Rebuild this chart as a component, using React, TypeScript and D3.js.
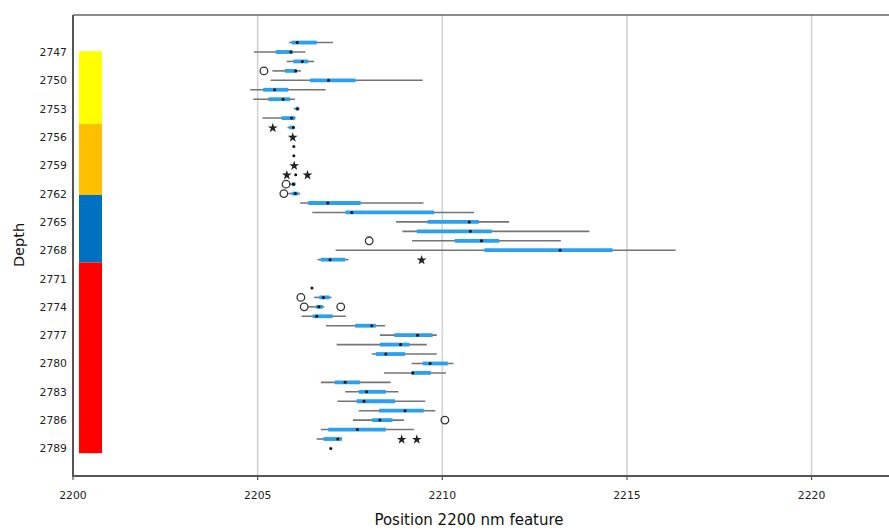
import * as d3 from 'd3';

// depth rows (every metre), tick labels shown on the axis
const depths = [
  2746, 2747, 2748, 2749, 2750, 2751, 2752, 2753, 2754, 2755, 2756, 2757, 2758, 2759, 2760,
  2761, 2762, 2763, 2764, 2765, 2766, 2767, 2768, 2769, 2770, 2771, 2772, 2773, 2774, 2775,
  2776, 2777, 2778, 2779, 2780, 2781, 2782, 2783, 2784, 2785, 2786, 2787, 2788, 2789,
];
const depthTicks = [2747, 2750, 2753, 2756, 2759, 2762, 2765, 2768, 2771, 2774, 2777, 2780, 2783, 2786, 2789];
const xTicks = [2200, 2205, 2210, 2215, 2220];

// box plot stats per depth (rows 2770 and 2771 have no data)
const boxDepths = [
  2746, 2747, 2748, 2749, 2750, 2751, 2752, 2753, 2754, 2755, 2756, 2757, 2758, 2759, 2760,
  2761, 2762, 2763, 2764, 2765, 2766, 2767, 2768, 2769, 2772, 2773, 2774, 2775, 2776, 2777,
  2778, 2779, 2780, 2781, 2782, 2783, 2784, 2785, 2786, 2787, 2788, 2789,
];
const whiskerLow = [
  2205.85, 2204.9, 2205.79, 2205.4, 2205.35, 2204.8, 2204.88, 2205.98, 2205.13, 2205.81, 2205.95, 2205.98, 2205.98, 2205.99, 2206.03,
  2205.85, 2205.83, 2206.15, 2206.48, 2208.75, 2208.92, 2209.18, 2207.11, 2206.62, 2206.47, 2206.53, 2206.37, 2206.19, 2206.85, 2208.31,
  2207.14, 2208.09, 2209.17, 2208.42, 2206.71, 2207.37, 2207.16, 2207.74, 2207.58, 2206.71, 2206.6, 2206.98,
];
const q1 = [
  2205.92, 2205.49, 2205.97, 2205.74, 2206.42, 2205.15, 2205.29, 2206.03, 2205.65, 2205.86, 2205.95, 2205.98, 2205.98, 2205.99, 2206.03,
  2205.93, 2205.92, 2206.37, 2207.38, 2209.6, 2209.31, 2210.34, 2211.14, 2206.71, 2206.47, 2206.67, 2206.58, 2206.49, 2207.64, 2208.7,
  2208.31, 2208.2, 2209.47, 2209.17, 2207.09, 2207.74, 2207.68, 2208.29, 2208.1, 2206.91, 2206.78, 2206.98,
];
const median = [
  2206.07, 2205.9, 2206.21, 2206.03, 2206.92, 2205.46, 2205.69, 2206.08, 2205.92, 2205.97, 2205.95, 2205.98, 2205.98, 2205.99, 2206.03,
  2205.97, 2206.02, 2206.9, 2207.55, 2210.73, 2210.76, 2211.06, 2213.19, 2206.96, 2206.47, 2206.78, 2206.66, 2206.6, 2208.09, 2209.33,
  2208.87, 2208.47, 2209.67, 2209.2, 2207.37, 2207.95, 2207.88, 2208.99, 2208.31, 2207.7, 2207.17, 2206.98,
];
const q3 = [
  2206.6, 2205.95, 2206.37, 2206.06, 2207.65, 2205.83, 2205.88, 2206.11, 2206.01, 2205.98, 2205.95, 2205.98, 2205.98, 2205.99, 2206.03,
  2206.02, 2206.1, 2207.79, 2209.78, 2210.99, 2211.34, 2211.54, 2214.61, 2207.37, 2206.47, 2206.94, 2206.76, 2207.03, 2208.2, 2209.74,
  2209.11, 2208.99, 2210.15, 2209.69, 2207.77, 2208.47, 2208.72, 2209.5, 2208.65, 2208.47, 2207.28, 2206.98,
];
const whiskerHigh = [
  2207.04, 2206.29, 2206.53, 2206.17, 2209.47, 2206.84, 2206.01, 2206.13, 2206.03, 2206.01, 2205.95, 2205.98, 2205.98, 2205.99, 2206.03,
  2206.03, 2206.15, 2209.49, 2210.86, 2211.81, 2213.98, 2213.21, 2216.32, 2207.46, 2206.47, 2207.0, 2206.8, 2207.39, 2208.45, 2209.85,
  2209.58, 2209.85, 2210.3, 2210.1, 2208.6, 2208.81, 2209.54, 2209.81, 2208.96, 2209.23, 2207.29, 2206.98,
];

// outliers (circles) and extremes (stars)
const outlierDepths = [2749, 2761, 2762, 2767, 2773, 2774, 2774, 2786];
const outlierValues = [2205.17, 2205.77, 2205.71, 2208.02, 2206.17, 2206.26, 2207.25, 2210.07];
const extremeDepths = [2755, 2756, 2759, 2760, 2760, 2769, 2788, 2788];
const extremeValues = [2205.41, 2205.95, 2205.99, 2205.79, 2206.35, 2209.44, 2208.9, 2209.31];

// colour strip zones (depth boundaries)
const zoneBreaks = [2746.92, 2754.62, 2762.14, 2769.3, 2789.5];
const zoneColors = ['#FFFF00', '#FFC000', '#0070C0', '#FF0000'];

const W = 889;
const H = 530;
const left = 73;
const top = 15;
const bottom = 476;

export default function App() {
  const x = d3.scaleLinear().domain([2200, 2222.5]).range([left, left + 22.5 * 36.93]);
  const y = d3.scalePoint<number>().domain(depths).range([top, bottom]).padding(2.92);
  const step = y.step();
  const yLin = d3
    .scaleLinear()
    .domain([2746, 2789])
    .range([y(2746)!, y(2746)! + 43 * step]);

  const star = d3.symbol().type(d3.symbolStar).size(30)()!;
  const font = '"DejaVu Sans", Verdana, sans-serif';

  return (
    <div style={{ position: 'fixed', left: 0, top: 0 }}>
      <svg width={W} height={H} style={{ display: 'block', background: '#fff' }}>
        {/* grid */}
        {xTicks.slice(1).map((t) => (
          <line key={t} x1={x(t)} x2={x(t)} y1={top} y2={bottom} stroke="#d3d3d3" strokeWidth={1.6} />
        ))}

        {/* colour strip */}
        {zoneColors.map((c, i) => (
          <rect
            key={c}
            x={79}
            width={23}
            y={yLin(zoneBreaks[i])}
            height={yLin(zoneBreaks[i + 1]) - yLin(zoneBreaks[i])}
            fill={c}
          />
        ))}

        {/* boxes */}
        {boxDepths.map((d, i) => {
          const cy = y(d)!;
          return (
            <g key={d}>
              {whiskerHigh[i] - whiskerLow[i] > 0.01 && (
                <line x1={x(whiskerLow[i])} x2={x(whiskerHigh[i])} y1={cy} y2={cy} stroke="#747474" strokeWidth={1.6} />
              )}
              {q3[i] - q1[i] > 0.01 && (
                <line x1={x(q1[i])} x2={x(q3[i])} y1={cy} y2={cy} stroke="#2b9ff0" strokeWidth={3.8} />
              )}
              <circle cx={x(median[i])} cy={cy} r={1.5} fill="#111" />
            </g>
          );
        })}

        {outlierDepths.map((d, i) => (
          <circle key={i} cx={x(outlierValues[i])} cy={y(d)!} r={3.8} fill="none" stroke="#333" strokeWidth={1.3} />
        ))}
        {extremeDepths.map((d, i) => (
          <path key={i} d={star} transform={`translate(${x(extremeValues[i])},${y(d)! + 0.5})`} fill="#222" />
        ))}

        {/* frame */}
        <line x1={left} x2={W} y1={top} y2={top} stroke="#666" strokeWidth={1.6} />
        <line x1={left} x2={left} y1={top} y2={bottom + 1} stroke="#555" strokeWidth={2} />
        <line x1={left - 1} x2={W} y1={bottom} y2={bottom} stroke="#555" strokeWidth={2} />

        {/* x axis */}
        {xTicks.map((t) => (
          <g key={t}>
            <line x1={x(t)} x2={x(t)} y1={bottom} y2={bottom + 4} stroke="#555" strokeWidth={1.2} />
            <text x={x(t)} y={499} textAnchor="middle" fontFamily={font} fontSize={10.8} fill="#222">
              {t}
            </text>
          </g>
        ))}
        <text x={469} y={525} textAnchor="middle" fontFamily={font} fontSize={15} fill="#111">
          Position 2200 nm feature
        </text>

        {/* y axis */}
        {depthTicks.map((t) => (
          <text key={t} x={67} y={y(t)! + 4} textAnchor="end" fontFamily={font} fontSize={10.8} fill="#222">
            {t}
          </text>
        ))}
        <text
          transform={`translate(24,245) rotate(-90)`}
          textAnchor="middle"
          fontFamily={font}
          fontSize={14.5}
          fill="#111"
        >
          Depth
        </text>
      </svg>
    </div>
  );
}
